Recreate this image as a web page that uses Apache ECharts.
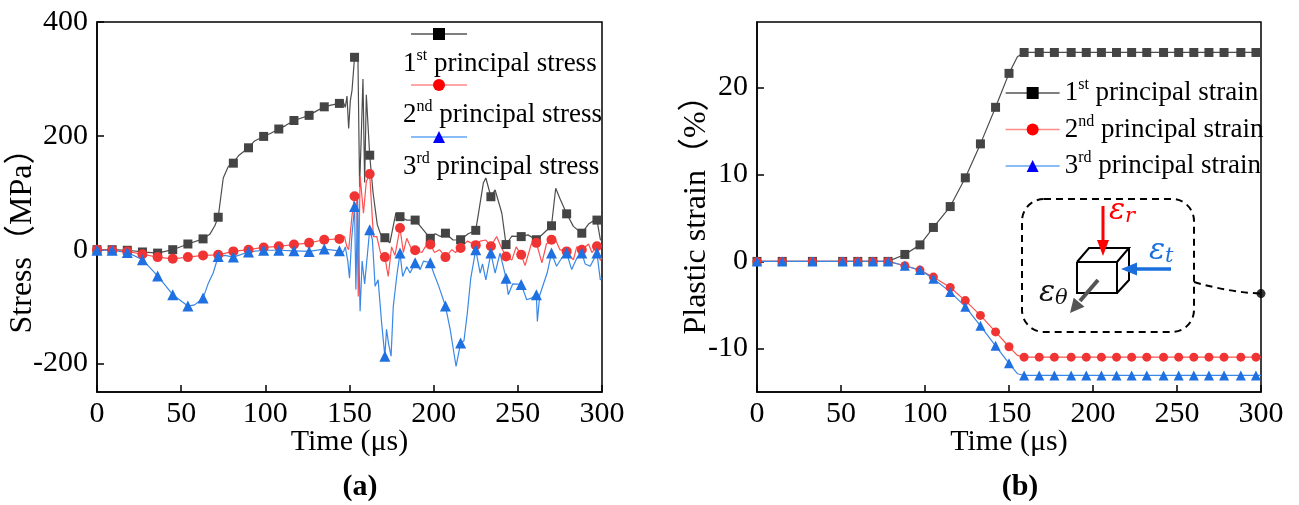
<!DOCTYPE html>
<html><head><meta charset="utf-8">
<script src="https://cdn.jsdelivr.net/npm/echarts@6/dist/echarts.min.js"></script>
<style>html,body{margin:0;padding:0;background:#fff}#c{width:1299px;height:505px}</style>
</head><body><div id="c"></div>
<script>
// ---------------- data (a): principal stresses ----------------
const stress1T = [0,9,18,27,36,45,54,63,67,70,72,75,78,81,84,87,90,93.6,99,103,108,112,117,121,126,130,135,139,144,146,147.5,148.5,149.5,150.5,151.5,153,155,156,157,158,159,160,162,164,166.5,168.5,171,174,177.5,180,184,189,193,198,201,204,207,211.5,216,220.5,225,229.5,231,234,236.5,240.5,243,246.5,252,256,261,265,270,272.5,275,279,283,288,292,295,297,299,300];
const stress1V = [0,0,-1,-4,-6,0,10,19,27,42,57,126,146,152,165,172,179,191,199,204,212,218,227,231,236,243,251,254,257,262,250,270,213,262,280,338,338,110,200,300,118,272,166,100,44,27,21,12,64,58,52,52,38,20,28,23,29,17,17.5,28,34,117,126,93,105,64,9,24,23,26,17.5,28,42,108,90,63,41,29,45,51,52,18,15];
const stress2T = [0,9,18,27,36,45,54,63,72,81,90,99,108,117,126,135,144,147,148.5,149.5,150.5,151.5,153,154.2,155.2,156.3,158.3,160,162,164.2,166.2,168.5,171,173,175,177,180,182,184,187,189,193,195,198,200.5,203.5,207,210.8,213,216,220,225,227.6,231,234,237.4,240,243,246.5,249,252,254.3,258,261,264.3,267,270,272,275,279,283,285,288,292,294,297,299,300];
const stress2V = [0,-1,-3,-8,-13,-16,-13,-10,-9,-3,0,4,6,9,12,17.5,19,23,5,0,30,60,94,99,-82,129,64,120,133,23,23,-6,-13,-47,5,-10,38,-5,20,0,-1,-5,5,9,-5,0,-13,0,-5,3,15,8,15,17,6,23,5,-12,-18,5,-9,-28,10,12,-23,10,17.5,20,0,-3,-18,5,0,10,-5,6,-19,-15];
const stress3T = [0,9,18,27,36,45,54,58,63,66,69,72,76,81,90,99,108,117,126,135,144,146.4,147.5,149,150,151.3,153,153.8,154.8,156.3,157.5,159,162,163.6,165.2,167,169.1,171,172,173.2,174.7,176,178,180,181.6,184,186,189,192,194,198,200,203,207,209.8,212,213.3,216,218,220,222,225,227.6,229,231,234,236.5,239.4,243,244.3,247,252,255.3,258,261,261.6,263,267.4,270,273,276,279,282,285,288,290,293,297,299,300];
const stress3V = [-1,-1,-5,-17.5,-46,-79,-99,-97,-85,-60,-41,-12,-10,-13,-4,-1,-1,-2,-3,1,-2,-4,5,-20,-50,20,76,-70,94,-108,-20,-60,35,17.5,-64,-53,-129,-187,-140,-165,-187,-100,-48,-6,-47,-30,-41,-23,-35,-20,-23,-41,-64,-99,-140,-181,-205,-164,-160,-111,-51,0,-41,-25,-53,-6,-41,-6,-50,-79,-60,-61,-88,-85,-79,-126,-80,-41,-6,-29,-15,-6,-35,-15,-6,-25,-29,-6,-53,-50];
const stressNames = ['1st principal stress','2nd principal stress','3rd principal stress'];
const stressTicks = [-200,0,200,400];

// ---------------- data (b): plastic strains ----------------
const strainT = [0,15,33,51,60,69,78,88,97,105,115,124,133,142,150,155,159,168,177,187,196,205,214,223,232,242,251,260,269,278,288,297,300];
const strain1V = [0,0,0,0,0,0,0,0.8,1.9,3.9,6.3,9.6,13.5,17.7,21.6,23.5,24,24,24,24,24,24,24,24,24,24,24,24,24,24,24,24,24];
const strain2V = [0,0,0,0,0,0,0,-0.5,-1.0,-1.8,-3.0,-4.5,-6.2,-8.1,-9.8,-10.8,-11,-11,-11,-11,-11,-11,-11,-11,-11,-11,-11,-11,-11,-11,-11,-11,-11];
const strain3V = [0,0,0,0,0,0,0,-0.5,-1.0,-2.0,-3.5,-5.2,-7.4,-9.7,-11.7,-12.9,-13.1,-13.1,-13.1,-13.1,-13.1,-13.1,-13.1,-13.1,-13.1,-13.1,-13.1,-13.1,-13.1,-13.1,-13.1,-13.1,-13.1];
const strainMarkerT = [0,15,33,51,60,69,78,88,97,105,115,124,133,142,150,159,168,177,187,196,205,214,223,232,242,251,260,269,278,288,297];
const strainNames = ['1st principal strain','2nd principal strain','3rd principal strain'];
const strainTicks = [-10,0,10,20];
const anchorPoint = [300, -3.7];

// ---------------- styles ----------------
const FONT = "'Liberation Serif','Times New Roman','Noto Sans CJK SC',serif";
const MATH = "'DejaVu Serif','Liberation Serif',serif";
const lineCols = ['#4d4d4d','#ff5050','#3a88e6'];
const markCols = ['#444444','#f03434','#1f70e0'];
const legSym = ['#000000','#ff0000','#0000ff'];
const legLine = ['#555555','#ff8a8a','#62a4f5'];
const syms = ['rect','circle','triangle'];

const isStressMarker = t => Math.abs(t / 9 - Math.round(t / 9)) < 1e-6;
const isStrainMarker = t => strainMarkerT.indexOf(t) >= 0;
function build(ts, vs, mark, sym) {
  return ts.map((t, i) => ({ value: [t, vs[i]], symbol: mark(t) ? sym : 'none' }));
}

const richLeg = {
  n: { fontSize: 27, fontFamily: FONT, color: '#000' },
  s: { fontSize: 16, fontFamily: FONT, color: '#000', padding: [0, 0, 16, 0] }
};
function fmt(name) {
  const m = name.match(/^(\d)(\w+) (.*)$/);
  return '{n|' + m[1] + '}{s|' + m[2] + '}{n| ' + m[3] + '}';
}

const axisCommon = () => ({
  type: 'value',
  axisLine: { show: true, onZero: false, lineStyle: { color: '#000', width: 1.5 } },
  axisTick: { show: true, inside: true, length: 7, lineStyle: { color: '#000', width: 1.5 } },
  axisLabel: { color: '#000', fontSize: 30, fontFamily: FONT },
  splitLine: { show: false },
  nameLocation: 'middle',
  nameMoveOverlap: false,
  nameTextStyle: { color: '#000', fontSize: 30, fontFamily: FONT }
});

function xAx(gi) {
  const a = axisCommon();
  a.gridIndex = gi; a.min = 0; a.max = 300; a.interval = 50;
  a.axisLabel.margin = 7;
  a.name = 'Time (μs)'; a.nameGap = 35;
  return a;
}
const yA = axisCommon();
Object.assign(yA, { gridIndex: 0, min: -250, max: 400, name: 'Stress（MPa）', nameGap: 58 });
yA.axisLabel.margin = 9; yA.axisLabel.customValues = stressTicks; yA.axisTick.customValues = stressTicks;
yA.nameTextStyle.fontSize = 32;
yA.nameTextStyle.padding = [0, 52, 0, 0];
const yB = axisCommon();
Object.assign(yB, { gridIndex: 1, min: -15, max: 27.5, name: 'Plastic strain（%）', nameGap: 44 });
yB.axisLabel.margin = 9; yB.axisLabel.customValues = strainTicks; yB.axisTick.customValues = strainTicks;
yB.nameTextStyle.fontSize = 32;

const legendTopsA = [28, 79, 131];
const legendsA = stressNames.map((n, i) => ({
  orient: 'vertical', left: 403, top: legendTopsA[i], padding: 0,
  itemWidth: 56, itemHeight: 15, selectedMode: false,
  data: [{ name: n, itemStyle: { color: legSym[i] }, lineStyle: { color: legLine[i], width: 1.3 } }],
  formatter: fmt,
  textStyle: { fontSize: 27, fontFamily: FONT, color: '#000', padding: [60, 0, 0, -69], rich: richLeg }
}));
const legendB = {
  orient: 'vertical', left: 1005, top: 77, padding: 0, itemGap: 7,
  itemWidth: 54, itemHeight: 15, selectedMode: false,
  data: strainNames.map((n, i) => ({ name: n, itemStyle: { color: legSym[i] }, lineStyle: { color: legLine[i], width: 1.3 } })),
  formatter: fmt,
  textStyle: { fontSize: 27, fontFamily: FONT, color: '#000', rich: richLeg }
};

const stressT = [stress1T, stress2T, stress3T];
const stressV = [stress1V, stress2V, stress3V];
const strainV = [strain1V, strain2V, strain3V];
const symSizeA = [9, 10, 11];
const series = [];
stressNames.forEach((n, i) => series.push({
  name: n, type: 'line', xAxisIndex: 0, yAxisIndex: 0,
  data: build(stressT[i], stressV[i], isStressMarker, syms[i]),
  symbol: syms[i], symbolSize: symSizeA[i], showAllSymbol: true,
  lineStyle: { color: lineCols[i], width: 1.2 }, itemStyle: { color: markCols[i] },
  emphasis: { disabled: true }
}));
strainNames.forEach((n, i) => series.push({
  name: n, type: 'line', xAxisIndex: 1, yAxisIndex: 1,
  data: build(strainT, strainV[i], isStrainMarker, syms[i]),
  symbol: syms[i], symbolSize: i === 2 ? 10 : 9, showAllSymbol: true,
  lineStyle: { color: lineCols[i], width: 1.2 }, itemStyle: { color: markCols[i] },
  emphasis: { disabled: true }
}));
series.push({
  name: 'anchor', type: 'scatter', xAxisIndex: 1, yAxisIndex: 1, data: [anchorPoint],
  symbol: 'circle', symbolSize: 9, itemStyle: { color: '#000' }, z: 5, emphasis: { disabled: true }
});

function insetElements(ap) {
  const dash = { fill: 'none', stroke: '#000', lineWidth: 2, lineDash: [7, 5] };
  const solid = { fill: 'none', stroke: '#000', lineWidth: 2 };
  const epsRich = (col) => ({
    e: { fontSize: 30, fontStyle: 'italic', fontFamily: MATH, fill: col, lineHeight: 36 },
    s: { fontSize: 21, fontStyle: 'italic', fontFamily: MATH, fill: col, padding: [12, 0, 0, 0] }
  });
  return [
    { type: 'rect', shape: { x: 1022, y: 199, width: 172, height: 133, r: 22 }, style: dash, silent: true },
    { type: 'bezierCurve', shape: { x1: 1194, y1: 282, cpx1: 1228, cpy1: 292, x2: ap[0], y2: ap[1] }, style: dash, silent: true },
    { type: 'polyline', shape: { points: [[1077, 262], [1117, 262], [1117, 293], [1077, 293], [1077, 262]] }, style: solid, silent: true },
    { type: 'polyline', shape: { points: [[1077, 262], [1089, 248], [1129, 248], [1117, 262]] }, style: solid, silent: true },
    { type: 'polyline', shape: { points: [[1129, 248], [1129, 280], [1117, 293]] }, style: solid, silent: true },
    { type: 'line', shape: { x1: 1103, y1: 206, x2: 1103, y2: 243 }, style: { stroke: '#ff0000', lineWidth: 3 }, silent: true },
    { type: 'polygon', shape: { points: [[1097, 240], [1109, 240], [1103, 256]] }, style: { fill: '#ff0000' }, silent: true },
    { type: 'line', shape: { x1: 1171, y1: 269, x2: 1134, y2: 269 }, style: { stroke: '#1a6fdc', lineWidth: 3.5 }, silent: true },
    { type: 'polygon', shape: { points: [[1137, 262.5], [1137, 275.5], [1121, 269]] }, style: { fill: '#1a6fdc' }, silent: true },
    { type: 'line', shape: { x1: 1098, y1: 280, x2: 1080, y2: 301 }, style: { stroke: '#555', lineWidth: 4 }, silent: true },
    { type: 'polygon', shape: { points: [[1084.5, 306.8], [1073.7, 297.7], [1070, 313]] }, style: { fill: '#555' }, silent: true },
    { type: 'text', style: { text: '{e|ε}{s|r}', x: 1109, y: 211, verticalAlign: 'middle', rich: epsRich('#ff0000') }, silent: true },
    { type: 'text', style: { text: '{e|ε}{s|t}', x: 1149, y: 251, verticalAlign: 'middle', rich: epsRich('#1a6fdc') }, silent: true },
    { type: 'text', style: { text: '{e|ε}{s|θ}', x: 1039, y: 293, verticalAlign: 'middle', rich: epsRich('#111') }, silent: true },
    { type: 'text', style: { text: '(a)', x: 360, y: 487, align: 'center', verticalAlign: 'middle', font: 'bold 30px ' + FONT, fill: '#000' }, silent: true },
    { type: 'text', style: { text: '(b)', x: 1020, y: 487, align: 'center', verticalAlign: 'middle', font: 'bold 30px ' + FONT, fill: '#000' }, silent: true }
  ];
}

const option = {
  animation: false,
  backgroundColor: '#fff',
  textStyle: { fontFamily: FONT },
  grid: [
    { left: 97, right: 697, top: 22, bottom: 113, show: true, borderColor: '#000', borderWidth: 1.5, backgroundColor: 'transparent' },
    { left: 757, right: 38, top: 22, bottom: 113, show: true, borderColor: '#000', borderWidth: 1.5, backgroundColor: 'transparent' }
  ],
  xAxis: [xAx(0), xAx(1)],
  yAxis: [yA, yB],
  legend: legendsA.concat([legendB]),
  series: series
};

const chart = echarts.init(document.getElementById('c'), null, { renderer: 'canvas' });
chart.setOption(option);
const ap = chart.convertToPixel({ xAxisIndex: 1, yAxisIndex: 1 }, anchorPoint);
chart.setOption({ graphic: { elements: insetElements(ap) } });
</script>
</body></html>
